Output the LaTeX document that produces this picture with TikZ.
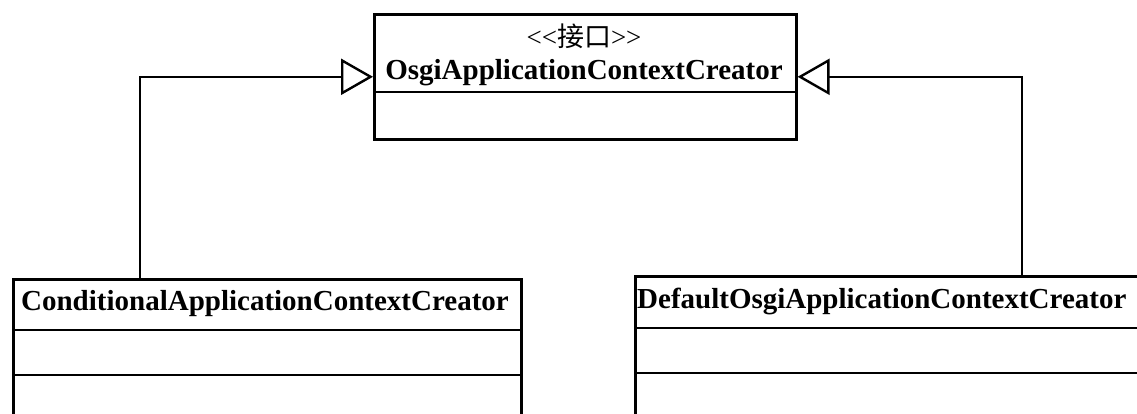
\documentclass[tikz,border=0pt]{standalone}
\usepackage{fontspec}
\setmainfont{Liberation Serif}
\newfontfamily\cjk{Noto Sans CJK SC}
\usetikzlibrary{arrows.meta,calc}
\tikzset{
  classbox/.style={draw, line width=2.6pt, rectangle, inner sep=0pt, anchor=north west},
  sep/.style={line width=2.6pt},
  title/.style={font=\bfseries\fontsize{29}{32}\selectfont, inner sep=0pt},
  stereo/.style={font=\fontsize{27}{29}\selectfont, inner sep=0pt},
  inherit/.style={line width=1.8pt, -{Triangle[open, length=32pt, width=36pt, line width=2.4pt]}}
}
\begin{document}
\begin{tikzpicture}[x=1pt,y=-1pt]
\useasboundingbox (0,0) rectangle (1137,414);
\clip (0,0) rectangle (1137,414);
% interface
\node[classbox, minimum width=422pt, minimum height=125pt] (iface) at (373,13) {};
\draw[sep] (373,92) -- (795,92);
\node[stereo] (st) at (584,36) {{<}{<}{\cjk 接口}{>}{>}};
\node[title] (it) at (584,73) {OsgiApplicationContextCreator};
% left class
\node[classbox, minimum width=508pt, minimum height=200pt] (cond) at (12,278) {};
\draw[sep] (12,330) -- (520,330);
\draw[sep] (12,375) -- (520,375);
\node[title] (ct) at (265,304) {ConditionalApplicationContextCreator};
% right class
\node[classbox, minimum width=540pt, minimum height=200pt] (def) at (634,275) {};
\draw[sep] (634,328) -- (1174,328);
\draw[sep] (634,373) -- (1174,373);
\node[title, anchor=west] (dt) at (637,301) {DefaultOsgiApplicationContextCreator};
% inheritance
\coordinate (cj) at ([xshift=128pt]cond.north west);
\coordinate (dj) at ([xshift=388pt]def.north west);
\draw[inherit] (cj) |- (iface.west);
\draw[inherit] (dj) |- (iface.east);
\end{tikzpicture}
\end{document}
